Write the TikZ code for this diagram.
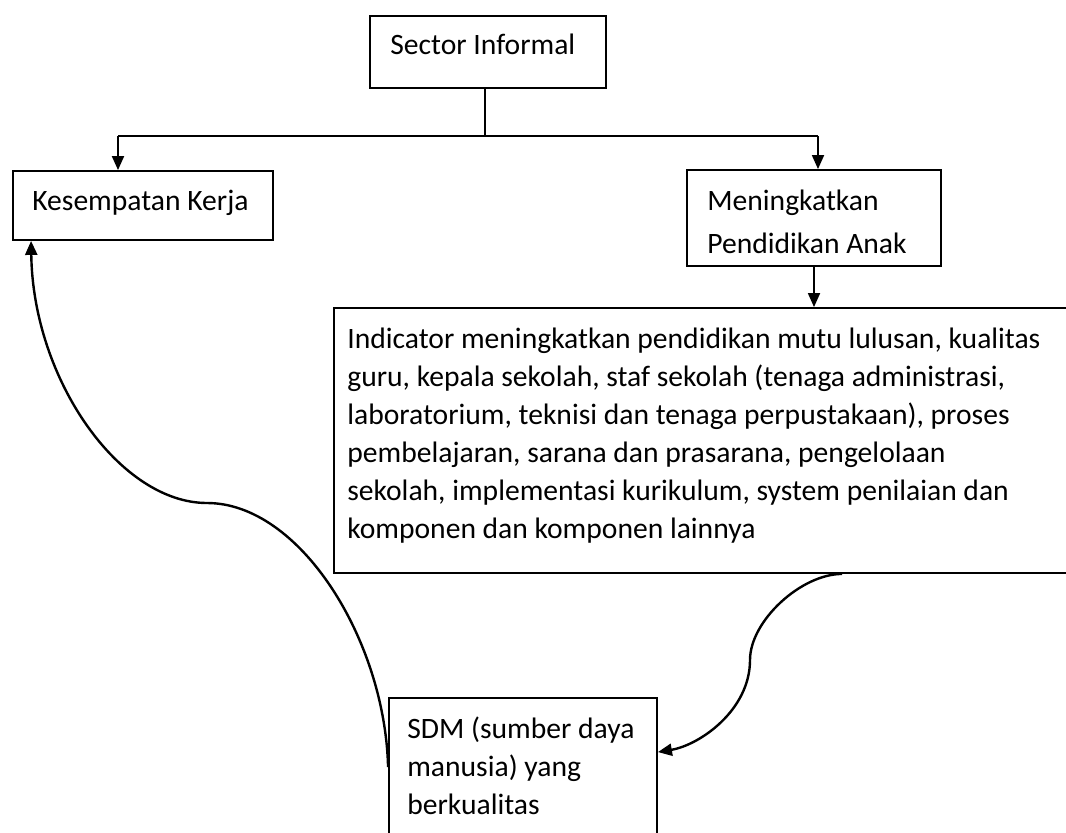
\documentclass[tikz,border=0pt]{standalone}
\usepackage{fontspec}
\setmainfont{Carlito}
\usetikzlibrary{arrows.meta,fit,positioning}

\begin{document}
\begin{tikzpicture}[
x=0.75pt,y=-0.75pt,
box/.style={
  draw,
  line width=1.4pt,
  inner sep=0pt
},
txt/.style={
  anchor=north west,
  align=left,
  inner sep=0pt,
  font=\fontsize{22.2}{#1}\selectfont
},
txt/.default=28pt,
link/.style={line width=1.4pt},
arr/.style={line width=1.4pt,-{Triangle[length=10.5pt,width=9pt]}},
curvelink/.style={line width=1.8pt,-{Triangle[length=10.5pt,width=9pt]}}
]
\clip (0,0) rectangle (1066,832);

% boxes
\node[box,fit={(370,16) (606,88)},
  label={[txt,xshift=15.75pt,yshift=-14pt]north west:Sector Informal}]
  (sector) {};
\node[box,fit={(13,171) (273,240)},
  label={[txt,xshift=15pt,yshift=-14.5pt]north west:Kesempatan Kerja}]
  (kerja) {};
\node[box,fit={(687,170) (941,266)},
  label={[txt=32.25pt,xshift=15.75pt,yshift=-15.5pt]north west:{Meningkatkan\\Pendidikan Anak}}]
  (didik) {};
\node[box,fit={(334,308) (1090,573)},
  label={[txt=28.5pt,xshift=10.5pt,yshift=-15.5pt]north west:{Indicator meningkatkan pendidikan mutu lulusan, kualitas\\
guru, kepala sekolah, staf sekolah (tenaga administrasi,\\
laboratorium, teknisi dan tenaga perpustakaan), proses\\
pembelajaran, sarana dan prasarana, pengelolaan\\
sekolah, implementasi kurikulum, system penilaian dan\\
komponen dan komponen lainnya}}]
  (indik) {};
\node[box,fit={(389,698) (657,860)},
  label={[txt=28.5pt,xshift=14.25pt,yshift=-14.5pt]north west:{SDM (sumber daya\\manusia) yang\\berkualitas}}]
  (sdm) {};

% tree at the top
\coordinate (fork) at (485,136);
\coordinate (forkl) at (118,136);
\coordinate (forkr) at (818,136);
\draw[link] (sector.south -| fork) -- (fork);
\draw[link] (forkl) -- (forkr);
\draw[arr] (forkl) -- (forkl |- kerja.north);
\draw[arr] (forkr) -- (forkr |- didik.north);
\draw[arr] (didik.south) -- (didik.south |- indik.north);

% curved links
\path (indik.south west) ++(509,0) coordinate (indout);
\path (sdm.north east) ++(0,55) coordinate (sdmin);
\path (sdm.north west) ++(0,70) coordinate (sdmout);
\path (kerja.south west) ++(19,0) coordinate (kerjain);
\draw[curvelink] (indout) .. controls (801,574) and (750,621) .. (750,660)
  .. controls (750,710) and (700,745) .. (sdmin);
\draw[curvelink] (sdmout) .. controls (385,640) and (300,503) .. (207,503)
  .. controls (120,503) and (33,380) .. (kerjain);
\end{tikzpicture}
\end{document}
